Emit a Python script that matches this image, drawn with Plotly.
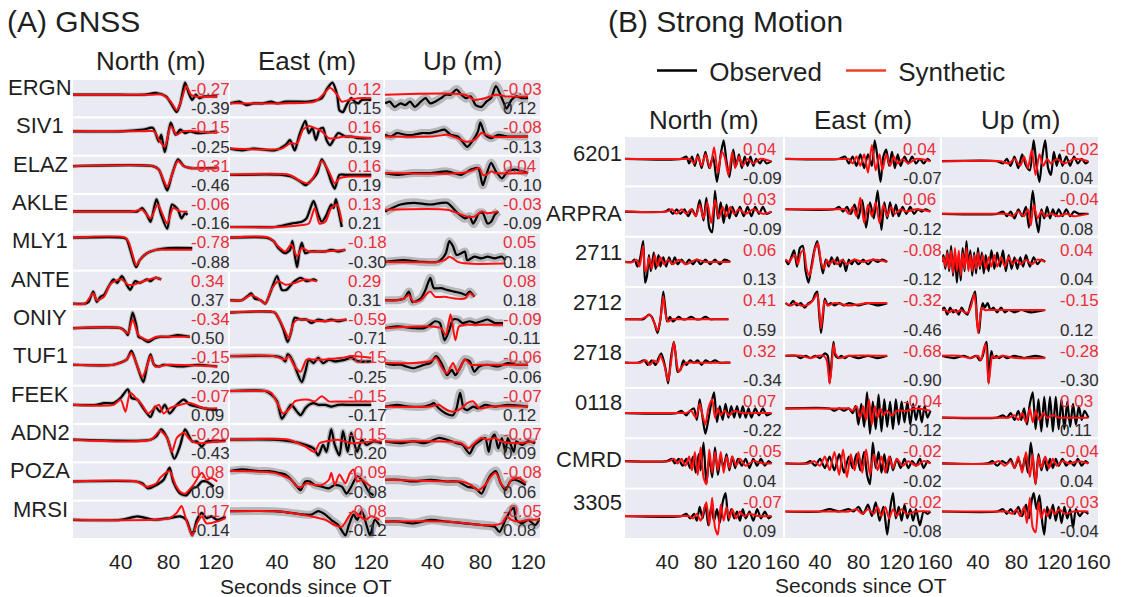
import plotly.graph_objects as go

# ---------------- DATA ----------------
GNSS_STATIONS = ["ERGN", "SIV1", "ELAZ", "AKLE", "MLY1", "ANTE", "ONIY", "TUF1", "FEEK", "ADN2", "POZA", "MRSI"]
SM_STATIONS = ["6201", "ARPRA", "2711", "2712", "2718", "0118", "CMRD", "3305"]
COMPONENTS = ["North (m)", "East (m)", "Up (m)"]
GNSS_TICKS = [40, 80, 120]
SM_TICKS = [40, 80, 120, 160]

# waveforms: (seconds since OT, normalised amplitude -10..10 within each panel)
GNSS_N_OBS = [
    [(0,2),(40,2),(60,2),(70,3),(78,1),(83,-4),(87,-8),(90,-3),(94,9),(97,3),(100,-1),(103,2),(106,0),(110,1),(121,1)],
    [(0,3),(40,3),(59,4),(67,5),(72,-3),(74,1),(77,-9),(82,8),(86,1),(90,4),(94,2),(98,3),(104,2),(121,3)],
    [(0,5),(67,5),(72,3),(76,-4),(79,-9),(83,0),(88,9),(93,5),(98,4),(121,4)],
    [(0,1),(48,1),(54,1),(58,3),(62,-1),(65,-5),(70,8),(74,-1),(79,-9),(83,5),(88,2),(91,-3),(94,0),(96,-1)],
    [(0,8),(42,8),(45,7),(48,1),(51,-6),(53,-9),(56,-5),(62,-1),(70,1),(80,2),(100,2)],
    [(0,-8),(10,-8),(13,-7),(17,-1),(20,-7),(23,-4),(26,-3),(30,2),(34,6),(37,4),(41,8),(45,3),(48,0),(52,5),(56,4),(62,6),(65,5),(69,7),(74,6)],
    [(0,0),(40,0),(44,-2),(46,-4),(50,9),(53,2),(55,-5),(58,-6),(63,-8),(68,-6),(73,-5),(80,-5),(88,-4),(98,-5)],
    [(0,1),(34,1),(45,4),(49,9),(53,2),(59,-9),(62,0),(65,7),(68,1),(72,0),(76,1),(90,0),(105,1),(121,0)],
    [(0,0),(20,0),(26,1),(34,1),(40,4),(46,9),(49,4),(54,3),(59,-2),(65,-7),(69,-1),(73,-4),(77,0),(81,-5),(87,0),(93,3),(98,0),(104,-1),(110,-2),(121,-3)],
    [(0,2),(65,2),(70,4),(74,8),(79,3),(85,-9),(90,-1),(94,8),(100,1),(104,1),(108,-2),(112,1),(121,1),(128,2)],
    [(0,0),(53,0),(58,-1),(63,-4),(70,-2),(76,1),(81,8),(84,0),(90,-7),(95,-8),(100,-4),(104,-3),(108,0),(112,0),(118,-3)],
    [(0,0),(40,0),(54,2),(68,0),(81,1),(90,2),(95,0),(100,-9),(104,0),(108,4),(112,1),(116,2),(121,0),(128,2)],
]
GNSS_N_SYN = [
    [(0,2),(65,2),(75,2),(82,-2),(87,-7),(91,-1),(95,7),(99,2),(103,1),(121,1)],
    [(0,3),(60,3),(68,3),(73,-3),(77,-6),(82,6),(87,1),(92,3),(121,2)],
    [(0,5),(67,5),(72,3),(76,-3),(79,-7),(83,0),(88,8),(93,5),(98,4),(121,4)],
    [(0,1),(50,1),(58,2),(65,-3),(71,5),(79,-6),(84,3),(90,1),(96,1)],
    [(0,8),(44,8),(47,5),(50,-2),(53,-8),(56,-5),(62,-1),(70,1),(80,1),(100,1)],
    [(0,-8),(10,-8),(17,-2),(20,-6),(26,-4),(31,3),(35,5),(41,6),(46,3),(51,3),(59,5),(70,7),(74,6)],
    [(0,0),(40,0),(46,-3),(50,5),(55,-4),(63,-7),(70,-5),(80,-5),(98,-5)],
    [(0,1),(34,1),(45,4),(49,8),(53,2),(58,-6),(62,0),(65,6),(69,0),(80,1),(121,0)],
    [(0,0),(34,0),(40,3),(44,-4),(48,7),(54,3),(58,0),(63,-5),(68,-2),(72,0),(76,-5),(81,-2),(90,0),(98,1),(110,-2),(121,-2)],
    [(0,2),(65,2),(73,7),(79,3),(83,-5),(87,3),(93,6),(98,2),(104,0),(121,1),(128,1)],
    [(0,0),(53,0),(62,-3),(70,-1),(73,2),(81,6),(86,-2),(90,-6),(94,-7),(101,-2),(108,5),(112,1),(116,2),(121,0)],
    [(0,0),(68,0),(81,1),(87,4),(91,8),(95,0),(100,-9),(104,-2),(108,2),(112,-2),(121,-1),(128,1)],
]
GNSS_E_OBS = [
    [(0,-3),(8,-2),(14,-4),(20,-3),(28,-3),(35,-2),(40,-3),(47,-2),(56,-2),(67,-2),(78,0),(82,5),(87,9),(91,2),(93,-7),(96,-8),(99,-4),(103,0),(106,-2),(109,-3),(112,-1),(120,-1)],
    [(0,-7),(10,-8),(20,-7),(38,-8),(47,-5),(51,-2),(55,-8),(59,1),(64,9),(67,2),(70,5),(73,-2),(76,4),(79,5),(82,-2),(85,-5),(88,-2),(92,2),(98,0),(103,0),(110,-1),(120,-1)],
    [(0,0),(44,0),(52,-1),(60,-4),(64,-6),(68,-4),(74,1),(78,9),(82,4),(86,-4),(89,-8),(93,0),(98,0),(103,0),(120,0)],
    [(0,-8),(20,-8),(38,-8),(52,-6),(61,-5),(65,-3),(71,7),(75,-1),(78,-5),(82,-1),(86,5),(88,3),(90,8),(92,2),(95,-8)],
    [(0,8),(31,8),(37,6),(41,2),(47,-1),(51,1),(53,6),(55,-2),(57,-9),(59,0),(61,5),(64,-1),(68,0),(74,0),(81,0),(86,1),(92,0),(98,1)],
    [(0,-6),(10,-6),(16,-3),(18,-2),(21,-5),(26,-6),(30,-8),(34,-2),(40,8),(44,0),(48,0),(52,3),(55,5),(60,7),(65,5),(71,6),(74,5)],
    [(0,9),(38,9),(41,6),(45,0),(49,-8),(52,-2),(55,6),(60,5),(65,5),(69,3),(75,5),(81,4),(86,5),(92,4),(99,5)],
    [(0,6),(38,6),(44,5),(47,3),(49,7),(51,6),(54,2),(61,-9),(64,-3),(67,4),(71,2),(75,5),(79,2),(84,4),(89,3),(98,4),(103,5),(109,3),(120,3)],
    [(0,8),(30,8),(35,6),(40,2),(44,-8),(48,-4),(52,0),(57,-4),(60,-6),(64,-2),(67,0),(71,1),(75,0),(81,0),(86,-1),(92,0),(103,0),(120,0)],
    [(0,2),(38,2),(52,1),(64,-1),(71,-3),(75,-7),(79,-1),(82,-5),(86,8),(89,-1),(93,-7),(96,7),(100,-5),(103,6),(108,-5),(112,2),(116,-1),(122,1),(129,0)],
    [(0,6),(10,7),(24,6),(33,6),(41,5),(47,4),(52,1),(57,-3),(60,-5),(64,0),(68,0),(72,-2),(78,-3),(84,-4),(89,-2),(95,-3),(99,-7),(103,-3),(108,3),(112,1),(118,-6),(122,-8)],
    [(0,5),(38,5),(52,4),(64,3),(69,3),(75,5),(81,3),(86,0),(92,-3),(98,-9),(101,-3),(105,3),(108,0),(112,5),(116,-3),(119,-9),(123,0),(127,-3)],
]
GNSS_E_SYN = [
    [(0,-3),(50,-3),(72,-2),(79,2),(85,6),(91,2),(95,-2),(101,-1),(109,0),(120,0)],
    [(0,-7),(44,-7),(51,-4),(57,-4),(62,4),(67,6),(72,5),(78,3),(84,-1),(89,-1),(98,0),(120,-1)],
    [(0,0),(50,0),(61,-4),(67,-5),(72,0),(78,8),(84,2),(89,-5),(93,-2),(103,-1),(120,-1)],
    [(0,-8),(40,-8),(60,-7),(67,-6),(72,3),(76,-6),(81,-5),(86,3),(91,5),(95,-5)],
    [(0,8),(33,8),(41,3),(47,0),(52,4),(57,-3),(61,2),(67,0),(81,0),(98,1)],
    [(0,-6),(10,-6),(18,-3),(24,-5),(30,-8),(35,0),(41,5),(47,3),(55,4),(64,6),(74,5)],
    [(0,9),(38,9),(42,5),(47,-2),(50,-6),(54,3),(58,5),(75,4),(99,5)],
    [(0,6),(38,6),(47,4),(50,6),(55,0),(60,-3),(65,4),(72,4),(81,4),(95,5),(103,6),(120,5)],
    [(0,8),(30,8),(35,7),(41,0),(45,-5),(51,-2),(55,2),(61,3),(67,3),(72,2),(78,5),(84,2),(92,2),(103,2),(120,2)],
    [(0,2),(50,2),(64,-2),(72,-5),(76,0),(81,1),(92,2),(103,0),(120,1),(129,1)],
    [(0,6),(38,5),(52,1),(57,-3),(61,-3),(65,-1),(72,-2),(78,-2),(84,1),(86,5),(89,-2),(93,4),(98,-1),(102,5),(105,7),(108,0),(112,1),(116,-1),(120,-3)],
    [(0,5),(38,5),(52,4),(69,2),(81,0),(89,-3),(95,-4),(101,2),(105,5),(109,3),(115,0),(120,2),(127,0)],
]
GNSS_U_OBS = [
    [(0,-3),(4,-2),(8,-5),(13,-3),(17,-4),(21,-2),(25,-5),(30,-2),(34,0),(38,-3),(42,-2),(47,0),(51,2),(55,2),(60,5),(64,2),(68,0),(72,1),(76,-4),(81,-5),(85,-2),(89,0),(93,7),(98,0),(102,-6),(106,-1),(110,1),(115,0),(120,0)],
    [(0,1),(5,0),(10,2),(17,1),(24,1),(31,2),(38,2),(44,3),(50,4),(55,1),(61,0),(65,-3),(69,-6),(74,-2),(78,3),(80,8),(84,1),(89,-1),(95,1),(103,0),(110,0),(120,0)],
    [(0,1),(10,0),(24,1),(38,1),(52,2),(64,0),(72,3),(78,4),(82,-6),(85,0),(89,7),(93,2),(98,-2),(103,2),(109,3),(120,1)],
    [(0,1),(13,5),(24,6),(38,5),(52,6),(61,0),(67,-3),(71,-2),(74,-6),(79,0),(82,0),(86,-6),(89,-5),(92,-1),(95,1)],
    [(0,-6),(15,-5),(30,-6),(44,-6),(48,-4),(51,-1),(54,6),(57,3),(60,-2),(64,-1),(67,0),(69,-5),(75,-3),(81,-4),(86,-3),(92,-4),(98,-3),(101,-5)],
    [(0,-6),(10,-6),(16,-5),(20,-1),(23,-7),(30,-5),(34,0),(38,7),(41,1),(47,1),(52,0),(58,-1),(64,-2),(68,-3),(71,-1),(75,-4)],
    [(0,0),(10,1),(24,0),(33,0),(38,2),(42,4),(46,3),(50,-7),(54,-1),(57,5),(61,5),(65,3),(71,4),(76,3),(81,4),(86,5),(92,3),(99,3)],
    [(0,2),(6,1),(13,1),(18,0),(24,-1),(33,1),(38,2),(43,6),(48,1),(52,-5),(56,-2),(59,-5),(62,-2),(67,4),(71,3),(75,-3),(79,0),(86,1),(95,0),(103,2),(110,1),(120,1)],
    [(0,-1),(10,0),(20,-1),(33,-1),(38,0),(41,1),(45,-2),(51,-5),(57,-6),(60,-2),(63,7),(66,-2),(69,-3),(74,-1),(78,-2),(84,0),(92,-1),(103,0),(120,-1)],
    [(0,1),(12,0),(24,1),(33,0),(38,1),(45,3),(52,2),(60,0),(65,-1),(71,-6),(75,-1),(79,1),(84,3),(87,-5),(89,2),(92,5),(95,-3),(98,3),(101,-5),(103,3),(108,-5),(110,1),(115,-1),(120,1),(126,0)],
    [(0,1),(12,1),(24,0),(38,1),(52,0),(61,0),(69,-3),(76,-4),(81,-7),(85,-1),(89,4),(93,6),(97,-1),(101,-5),(105,0),(109,1),(113,0),(118,-2)],
    [(0,-1),(12,-1),(24,-2),(38,0),(52,-1),(67,-2),(81,-3),(92,-4),(96,-7),(101,0),(105,5),(108,7),(110,0),(115,-2),(120,0),(126,-3),(130,1)],
]
GNSS_U_SYN = [
    [(0,2),(67,2),(75,-1),(84,0),(93,2),(101,1),(120,1)],
    [(0,0),(40,0),(52,1),(61,-1),(68,-3),(75,-2),(81,2),(89,0),(120,0)],
    [(0,1),(64,1),(75,3),(79,4),(82,0),(85,0),(89,2),(93,1),(120,1)],
    [(0,2),(52,2),(61,0),(69,-2),(75,-2),(81,1),(86,0),(95,1)],
    [(0,-6),(44,-6),(50,-5),(54,-3),(57,-4),(61,-6),(69,-7),(101,-7)],
    [(0,-6),(10,-6),(16,-5),(20,-3),(24,-7),(30,-6),(34,-3),(38,-1),(42,-4),(50,-4),(58,-5),(67,-5),(71,-2),(75,-4)],
    [(0,0),(38,1),(47,0),(51,-4),(55,8),(59,-7),(62,1),(67,2),(75,2),(99,2)],
    [(0,2),(24,2),(38,3),(43,5),(48,-1),(52,-4),(57,2),(61,-3),(67,4),(72,1),(81,1),(120,1)],
    [(0,-1),(38,-1),(45,0),(52,-3),(57,-4),(64,-2),(69,1),(74,2),(79,-2),(89,-1),(120,-1)],
    [(0,1),(52,1),(64,0),(70,-3),(75,0),(81,3),(86,2),(92,3),(98,1),(109,0),(126,1)],
    [(0,1),(52,0),(64,0),(72,-2),(78,-5),(84,-2),(89,3),(93,5),(98,-2),(102,-4),(106,1),(112,2),(118,-1)],
    [(0,-1),(52,-1),(67,-2),(81,-3),(92,-3),(98,-2),(102,2),(106,0),(112,-1),(120,0),(130,0)],
]

SM_N_OBS = [
    [(-4,1),(55,1),(60,2),(63,-1),(66,2),(69,-2),(72,3),(76,-3),(80,4),(84,-3),(88,2),(92,-9),(96,3),(99,9),(102,0),(105,-7),(109,5),(112,-2),(115,3),(118,-3),(121,2),(124,-2),(127,2),(130,-2),(133,1),(137,-1),(140,1),(144,-1),(149,0)],
    [(-4,0),(38,0),(42,1),(46,-1),(50,1),(54,-1),(58,1),(62,-2),(66,1),(70,-2),(74,5),(78,-4),(81,6),(84,-7),(87,-9),(90,9),(93,-3),(96,4),(99,-5),(102,3),(105,-3),(108,2),(112,-2),(116,2),(120,-2),(124,2),(128,-2),(132,2),(136,-1),(140,2),(144,-1),(149,0)],
    [(-4,0),(3,0),(6,1),(9,-2),(12,2),(15,9),(17,-9),(19,-6),(21,3),(23,-4),(26,4),(28,-3),(31,3),(33,-2),(36,2),(39,-2),(42,2),(45,-1),(48,2),(51,-1),(55,1),(59,-1),(63,1),(67,-1),(71,1),(75,-1),(80,1),(85,-1),(90,1),(95,-1),(100,1),(106,0)],
    [(-4,-3),(10,-3),(15,-3),(18,-2),(21,-1),(24,-2),(27,-5),(30,-9),(33,-3),(36,9),(38,2),(40,-4),(43,-2),(46,-4),(49,-3),(52,-2),(56,-3),(60,-3),(65,-2),(70,-3),(75,-3),(80,-2),(85,-3),(90,-3),(95,-3),(104,-3)],
    [(-4,0),(10,0),(16,1),(20,-1),(24,1),(28,-1),(31,2),(34,4),(38,-2),(41,-9),(44,2),(47,9),(49,3),(51,-4),(54,-3),(57,1),(60,-1),(64,1),(68,0),(72,1),(76,-1),(80,1),(85,0),(90,1),(95,0),(100,0),(106,0)],
    [(-4,0),(50,0),(55,1),(60,-1),(64,1),(68,2),(71,-3),(74,6),(77,-2),(80,-9),(83,-3),(86,4),(89,9),(92,-4),(95,3),(98,-3),(101,4),(104,-2),(107,3),(110,-2),(113,3),(116,-2),(119,3),(122,-2),(125,2),(128,-2),(132,2),(136,-1),(140,2),(144,-1),(149,0)],
    [(-4,1),(40,1),(45,2),(48,0),(52,2),(56,-1),(60,2),(64,-2),(67,3),(70,-4),(73,4),(75,-3),(78,9),(81,-9),(84,3),(87,-6),(90,7),(93,-5),(96,3),(99,-2),(102,4),(105,-3),(108,3),(111,-2),(114,2),(118,-1),(122,2),(126,-2),(130,2),(134,-1),(138,2),(142,-1),(146,1),(149,0)],
    [(-4,-1),(55,-1),(60,0),(64,-2),(68,0),(71,-3),(74,3),(77,-2),(80,4),(83,-5),(86,3),(89,-3),(92,2),(95,-4),(98,5),(101,9),(104,-3),(107,2),(110,-2),(113,1),(116,-3),(119,2),(122,-2),(126,1),(130,-3),(134,2),(138,-2),(142,1),(146,-2),(149,-1)],
]
SM_N_SYN = [
    [(-4,1),(58,1),(64,1),(68,-1),(72,2),(76,-2),(80,3),(85,-3),(89,6),(93,-5),(97,4),(100,2),(104,-6),(108,4),(111,-3),(115,2),(119,-2),(124,1),(130,-1),(137,1),(149,0)],
    [(-4,0),(40,0),(45,1),(50,-1),(55,1),(60,-1),(65,1),(70,-2),(74,3),(78,-3),(82,4),(86,-5),(90,5),(94,-3),(98,2),(102,-2),(106,2),(110,-1),(115,1),(122,-1),(130,1),(140,-1),(149,0)],
    [(-4,0),(4,0),(8,1),(11,-2),(13,2),(15,7),(17,-4),(19,-3),(21,2),(24,-3),(27,3),(30,-2),(33,2),(37,-1),(41,1),(46,-1),(52,1),(60,-1),(70,1),(80,0),(90,0),(106,0)],
    [(-4,-3),(12,-3),(18,-2),(22,-1),(26,-4),(30,-8),(33,-3),(36,7),(38,0),(41,-4),(45,-3),(50,-3),(60,-3),(104,-3)],
    [(-4,0),(12,0),(18,1),(22,-1),(26,1),(30,0),(33,3),(37,-1),(41,-8),(44,0),(47,9),(50,0),(52,-4),(55,-2),(60,0),(70,0),(106,0)],
    [(-4,0),(55,0),(60,0),(65,1),(70,-2),(74,4),(77,-1),(80,-5),(83,2),(87,6),(90,-2),(93,2),(96,-1),(100,1),(105,-1),(110,1),(118,0),(130,0),(149,0)],
    [(-4,1),(42,1),(47,2),(51,0),(55,2),(59,-1),(63,3),(66,-3),(69,5),(72,-5),(75,7),(78,-6),(81,-9),(84,6),(87,-4),(90,5),(93,-3),(96,5),(99,-4),(102,3),(105,-2),(108,3),(112,-1),(116,2),(122,-1),(130,1),(140,0),(149,0)],
    [(-4,-1),(58,-1),(63,-1),(67,-2),(71,0),(75,-3),(78,1),(81,5),(84,-5),(87,7),(90,-6),(93,-9),(96,4),(99,-3),(102,3),(105,-2),(108,2),(112,-2),(116,1),(120,-1),(126,0),(135,-1),(149,-1)],
]
SM_E_OBS = [
    [(4,1),(60,1),(66,2),(70,-1),(74,2),(78,-2),(82,3),(86,-3),(90,3),(94,-2),(97,9),(100,1),(103,-9),(106,2),(109,5),(112,-2),(115,4),(118,-3),(121,3),(124,-2),(128,2),(132,-1),(136,2),(140,-1),(144,1),(148,-1),(152,1),(155,0)],
    [(4,1),(55,1),(60,2),(64,0),(68,2),(72,-1),(76,3),(80,-3),(84,5),(88,-7),(92,4),(96,-3),(100,9),(104,-8),(107,4),(110,-3),(113,4),(116,-2),(119,3),(122,-2),(126,2),(130,-1),(134,2),(138,-1),(142,1),(146,0),(150,1),(155,0)],
    [(4,1),(7,-1),(10,2),(13,5),(16,-2),(19,6),(22,7),(25,-4),(28,-9),(31,-2),(34,5),(37,9),(40,2),(43,-5),(46,1),(49,-2),(52,2),(55,-1),(58,2),(61,-2),(64,1),(67,-4),(70,1),(73,-1),(76,1),(80,-1),(85,1),(90,-1),(95,1),(100,0),(105,1),(110,0)],
    [(4,4),(8,3),(12,5),(16,3),(20,4),(24,2),(28,4),(32,5),(35,8),(37,9),(39,0),(41,-9),(43,-2),(45,6),(48,3),(51,4),(55,3),(60,4),(65,3),(70,4),(80,3),(90,4),(100,3),(110,4)],
    [(4,3),(15,3),(20,2),(25,3),(30,2),(35,3),(40,2),(45,4),(48,3),(50,-9),(52,0),(54,9),(56,3),(59,2),(62,3),(66,2),(70,3),(80,2),(90,3),(100,2),(110,3)],
    [(4,2),(50,2),(55,1),(60,2),(65,1),(70,2),(74,0),(77,3),(80,-5),(83,4),(86,-6),(89,9),(92,-9),(95,5),(98,-7),(101,8),(104,-8),(107,6),(110,-6),(113,5),(116,-7),(119,6),(122,-5),(125,5),(128,-4),(131,5),(134,-5),(137,4),(140,-3),(143,3),(146,-4),(149,3),(152,-2),(155,1)],
    [(4,0),(25,0),(30,1),(35,-1),(40,2),(45,-2),(50,3),(55,-3),(60,4),(65,-4),(70,3),(74,-2),(78,4),(82,-3),(86,5),(89,-5),(92,-9),(95,9),(98,-2),(101,5),(104,-4),(107,4),(110,-4),(113,3),(116,-3),(120,2),(124,-2),(128,2),(132,-2),(136,1),(140,-1),(144,2),(148,-2),(152,1),(155,0)],
    [(4,1),(40,1),(50,2),(60,1),(70,2),(75,1),(80,3),(85,0),(90,4),(94,-1),(98,5),(102,-3),(106,3),(110,-9),(113,2),(116,9),(119,-2),(122,3),(125,-3),(128,4),(131,-2),(134,2),(137,-3),(140,2),(144,-5),(148,1),(152,0),(155,1)],
]
SM_E_SYN = [
    [(4,1),(64,1),(70,1),(74,-1),(78,2),(82,-2),(86,3),(90,-5),(94,7),(98,-4),(102,3),(105,-4),(109,3),(113,-2),(117,2),(121,-1),(126,1),(132,-1),(140,1),(155,0)],
    [(4,1),(60,1),(66,1),(70,-1),(74,2),(78,-2),(82,6),(86,-5),(90,3),(94,-2),(98,4),(102,-5),(106,3),(110,-2),(114,2),(118,-1),(124,1),(130,0),(140,1),(155,0)],
    [(4,1),(8,0),(11,2),(14,3),(17,-1),(20,4),(23,5),(26,-3),(29,-6),(32,-1),(35,6),(38,8),(41,0),(44,-3),(47,1),(50,-1),(54,1),(58,-1),(63,1),(68,-1),(75,1),(85,0),(95,1),(110,0)],
    [(4,4),(10,3),(15,4),(20,3),(25,3),(30,4),(34,6),(37,8),(39,2),(41,-7),(43,0),(45,5),(48,3),(55,4),(70,3),(90,4),(110,4)],
    [(4,3),(20,3),(30,2),(38,3),(44,3),(47,1),(50,-9),(52,-2),(54,8),(56,4),(60,2),(70,3),(110,3)],
    [(4,2),(60,2),(70,2),(74,1),(78,3),(82,-2),(85,3),(88,-3),(91,6),(94,-5),(97,3),(100,-2),(103,2),(106,-1),(110,1),(115,-1),(120,1),(130,1),(140,2),(155,1)],
    [(4,0),(28,0),(34,1),(40,-1),(45,3),(50,-3),(55,5),(60,-5),(64,6),(68,-6),(72,4),(76,-3),(80,5),(84,-4),(88,6),(92,-5),(96,4),(100,-3),(104,3),(108,-4),(112,3),(116,-2),(120,2),(126,-1),(132,1),(140,-1),(148,1),(155,0)],
    [(4,1),(50,1),(60,1),(70,1),(78,2),(84,0),(90,2),(96,0),(100,3),(104,-1),(108,3),(112,-2),(116,2),(120,-1),(125,2),(130,0),(140,1),(155,1)],
]
SM_U_OBS = [
    [(2,0),(60,0),(66,-1),(70,1),(74,-2),(78,2),(82,-3),(86,3),(90,-2),(94,-4),(98,9),(101,-2),(104,-9),(107,2),(110,9),(113,-3),(116,-6),(119,4),(122,-2),(125,3),(128,-2),(132,2),(136,-2),(140,2),(144,-1),(148,1),(152,-1),(155,0)],
    [(2,-1),(60,-1),(66,0),(70,-2),(74,0),(78,-3),(82,1),(86,-2),(90,2),(93,-7),(97,9),(100,-2),(103,-9),(106,1),(109,-3),(112,2),(115,-3),(118,1),(121,-2),(124,1),(128,-2),(132,1),(136,-2),(140,0),(145,-1),(150,-1),(155,-1)],
    [(2,0),(4,3),(6,-3),(8,5),(10,-4),(12,7),(14,-6),(16,4),(18,-9),(20,3),(22,-8),(24,6),(26,-4),(28,9),(30,-3),(32,5),(34,-6),(36,4),(38,-5),(40,6),(42,-3),(44,4),(46,-5),(48,3),(51,-4),(54,5),(57,-3),(60,4),(63,-2),(66,5),(69,-4),(72,3),(75,-3),(78,2),(81,-3),(84,2),(87,-2),(90,3),(94,-2),(98,2),(102,-1),(106,1),(110,0)],
    [(2,1),(5,2),(8,-1),(11,2),(14,0),(17,1),(20,-1),(23,2),(26,0),(29,-1),(32,3),(35,7),(37,9),(39,-4),(41,-9),(43,0),(45,4),(47,2),(50,4),(53,1),(56,2),(60,0),(64,2),(68,0),(72,1),(78,0),(85,1),(95,0),(110,1)],
    [(2,3),(15,2),(25,3),(32,2),(38,3),(42,1),(45,3),(47,7),(49,9),(51,-9),(53,2),(54,5),(56,2),(59,3),(62,2),(66,3),(70,2),(78,3),(88,2),(100,3),(110,2)],
    [(2,-2),(60,-2),(66,-1),(70,-2),(74,0),(78,-3),(82,1),(85,-3),(88,2),(91,-5),(94,4),(97,9),(100,-7),(103,6),(106,-8),(109,7),(112,-6),(115,7),(118,-8),(121,7),(124,-7),(127,6),(130,-7),(133,5),(136,-6),(139,4),(142,-5),(145,3),(148,-3),(151,1),(155,-2)],
    [(2,0),(50,0),(55,1),(60,-1),(65,1),(70,0),(74,2),(78,-2),(82,2),(86,-3),(89,3),(92,-4),(95,9),(98,-2),(100,-9),(103,4),(106,-3),(109,2),(112,-3),(115,2),(118,-2),(121,2),(124,-1),(128,2),(132,-1),(136,1),(140,-1),(144,2),(148,-1),(152,1),(155,0)],
    [(2,1),(60,1),(66,2),(70,0),(74,2),(78,0),(82,3),(86,-1),(90,4),(93,-2),(96,6),(98,9),(101,2),(104,8),(107,-4),(109,-9),(112,3),(115,-2),(118,4),(121,-3),(124,3),(127,-4),(130,3),(133,-2),(136,2),(139,-6),(142,2),(146,-1),(150,1),(155,0)],
]
SM_U_SYN = [
    [(2,0),(64,0),(72,-1),(78,1),(84,-2),(88,2),(92,-3),(96,5),(100,-6),(104,3),(108,-2),(112,1),(116,-1),(122,1),(130,-1),(140,1),(155,0)],
    [(2,-1),(64,-1),(70,-1),(76,-2),(82,0),(88,-2),(92,1),(95,-6),(98,3),(102,-3),(106,0),(110,-2),(116,-1),(124,-2),(132,-1),(140,-2),(155,-1)],
    [(2,0),(4,2),(6,-2),(8,4),(10,-3),(12,5),(14,-5),(16,6),(18,-4),(20,5),(22,-6),(24,4),(26,-3),(28,6),(30,-4),(32,3),(34,-4),(36,3),(38,-3),(40,4),(42,-2),(45,3),(48,-3),(51,2),(54,-2),(57,3),(60,-2),(64,2),(68,-2),(72,2),(76,-1),(80,1),(85,-1),(90,1),(96,-1),(102,1),(110,0)],
    [(2,1),(6,1),(10,0),(14,1),(18,0),(22,1),(26,0),(30,0),(33,3),(36,8),(38,2),(40,-9),(42,-3),(44,2),(47,1),(52,1),(60,1),(80,1),(110,1)],
    [(2,3),(20,3),(32,2),(40,3),(43,1),(46,6),(48,8),(51,-9),(53,-2),(55,3),(58,2),(65,3),(80,2),(110,2)],
    [(2,-2),(66,-2),(72,-2),(78,-1),(82,-3),(86,0),(90,-4),(94,2),(97,-4),(100,1),(104,-3),(108,0),(112,-2),(118,-1),(125,-2),(135,-2),(155,-2)],
    [(2,0),(55,0),(62,1),(68,-1),(74,1),(78,-2),(82,3),(86,-4),(90,5),(94,-6),(97,4),(100,-9),(103,3),(106,-2),(110,3),(114,-2),(118,2),(122,-1),(128,1),(135,0),(145,1),(155,0)],
    [(2,1),(64,1),(70,1),(76,0),(80,2),(84,-1),(88,3),(91,-4),(94,7),(97,-6),(100,-8),(103,5),(106,-2),(109,2),(112,-1),(116,2),(120,0),(125,2),(130,0),(140,1),(155,1)],
]

# peak values printed in each panel (red = synthetic, dark = observed)
GNSS_N_RED = ["-0.27", "-0.15", "-0.31", "-0.06", "-0.78", "0.34", "-0.34", "-0.15", "-0.07", "-0.20", "0.08", "-0.17"]
GNSS_N_BLK = ["-0.39", "-0.25", "-0.46", "-0.16", "-0.88", "0.37", "0.50", "-0.20", "0.09", "-0.43", "0.09", "-0.14"]
GNSS_E_RED = ["0.12", "0.16", "0.16", "0.13", "-0.18", "0.29", "-0.59", "-0.15", "-0.15", "-0.15", "-0.09", "-0.08"]
GNSS_E_BLK = ["0.15", "0.19", "0.19", "0.21", "-0.30", "0.31", "-0.71", "-0.25", "-0.17", "-0.20", "-0.08", "-0.12"]
GNSS_U_RED = ["-0.03", "-0.08", "0.04", "-0.03", "0.05", "0.08", "-0.09", "-0.06", "-0.07", "-0.07", "-0.08", "-0.05"]
GNSS_U_BLK = ["0.12", "-0.13", "-0.10", "-0.09", "0.18", "0.18", "-0.11", "-0.06", "0.12", "0.09", "0.06", "0.08"]
SM_N_RED = ["0.04", "0.03", "0.06", "0.41", "0.32", "0.07", "-0.05", "-0.07"]
SM_N_BLK = ["-0.09", "-0.09", "0.13", "0.59", "-0.34", "-0.22", "0.04", "0.09"]
SM_E_RED = ["0.04", "0.06", "-0.08", "-0.32", "-0.68", "-0.04", "-0.02", "-0.02"]
SM_E_BLK = ["-0.07", "-0.12", "-0.12", "-0.46", "-0.90", "-0.12", "-0.02", "-0.08"]
SM_U_RED = ["-0.02", "-0.04", "0.04", "-0.15", "-0.28", "0.03", "-0.04", "-0.03"]
SM_U_BLK = ["0.04", "0.08", "0.04", "0.12", "-0.30", "0.11", "0.04", "-0.04"]

# ---------------- STYLE / LAYOUT ----------------
W, H = 1143, 597
FONT = "Liberation Sans, Arial, sans-serif"
TXT = "#1f1f1f"
BG = "#EAEAF2"
OBS_C = "black"
SYN_C = "#ff1010"
RED_TXT = "#e8303a"
BLK_TXT = "#2e2e2e"
BAND_C = "rgba(140,140,140,0.55)"

GNSS_COLS = [(73, 228), (230, 383), (385, 540)]
GNSS_TOP, GNSS_ROWH = 80, 460 / 12
GNSS_XR = [[0, 130], [0, 130], [0, 130]]
GNSS_BAND = [[4] * 12,
             [4, 4, 4, 4, 4, 4, 4, 5, 5, 5, 8, 8],
             [9, 8, 8, 9, 8, 8, 8, 9, 8, 8, 9, 9]]
SM_COLS = [(625, 783), (785, 940), (942, 1098)]
SM_TOP, SM_ROWH = 137, 403 / 8
SM_XR = [[-4, 161], [3.5, 165], [2.5, 165]]

GNSS_DATA = [(GNSS_N_OBS, GNSS_N_SYN, GNSS_N_RED, GNSS_N_BLK),
             (GNSS_E_OBS, GNSS_E_SYN, GNSS_E_RED, GNSS_E_BLK),
             (GNSS_U_OBS, GNSS_U_SYN, GNSS_U_RED, GNSS_U_BLK)]
SM_DATA = [(SM_N_OBS, SM_N_SYN, SM_N_RED, SM_N_BLK),
           (SM_E_OBS, SM_E_SYN, SM_E_RED, SM_E_BLK),
           (SM_U_OBS, SM_U_SYN, SM_U_RED, SM_U_BLK)]

fig = go.Figure()
layout = {}
annotations = []
counter = [0]


def px_x(x):
    return x / W


def px_y(y):
    return 1 - y / H


def add_panel(xpx, ytop, ybot, xr, obs, syn, band, bottom, ticks, red, blk, ry, by):
    counter[0] += 1
    n = counter[0]
    xa = "xaxis" if n == 1 else f"xaxis{n}"
    ya = "yaxis" if n == 1 else f"yaxis{n}"
    xr_ = "x" if n == 1 else f"x{n}"
    yr_ = "y" if n == 1 else f"y{n}"
    layout[xa] = dict(domain=[px_x(xpx[0]), px_x(xpx[1])], range=xr, anchor=yr_,
                      showgrid=False, zeroline=False, showline=False, automargin=False,
                      showticklabels=bottom, tickvals=ticks, ticks="",
                      ticklabelstandoff=9,
                      tickfont=dict(family=FONT, size=21, color=TXT), fixedrange=True)
    layout[ya] = dict(domain=[px_y(ybot), px_y(ytop)], range=[-10.5, 10.5], anchor=xr_,
                      showgrid=False, zeroline=False, showline=False, automargin=False,
                      showticklabels=False, fixedrange=True)
    ox = [p[0] for p in obs]
    oy = [p[1] for p in obs]
    sx = [p[0] for p in syn]
    sy = [p[1] for p in syn]
    if band:
        fig.add_trace(go.Scatter(x=ox, y=oy, xaxis=xr_, yaxis=yr_, mode="lines",
                                 line=dict(color=BAND_C, width=band, shape="spline", smoothing=0.7),
                                 showlegend=False, hoverinfo="skip"))
    fig.add_trace(go.Scatter(x=ox, y=oy, xaxis=xr_, yaxis=yr_, mode="lines",
                             line=dict(color=OBS_C, width=2.2, shape="spline", smoothing=0.7),
                             showlegend=False, hoverinfo="skip"))
    fig.add_trace(go.Scatter(x=sx, y=sy, xaxis=xr_, yaxis=yr_, mode="lines",
                             line=dict(color=SYN_C, width=2.0, shape="spline", smoothing=0.7),
                             showlegend=False, hoverinfo="skip"))
    lx = px_x(xpx[0] + 117)
    annotations.append(dict(text=red, x=lx, y=px_y(ytop), xref="paper", yref="paper",
                            xanchor="left", yanchor="top", yshift=ry, showarrow=False, borderpad=0,
                            font=dict(family=FONT, size=17, color=RED_TXT)))
    annotations.append(dict(text=blk, x=lx, y=px_y(ybot), xref="paper", yref="paper",
                            xanchor="left", yanchor="bottom", yshift=by, showarrow=False, borderpad=0,
                            font=dict(family=FONT, size=17, color=BLK_TXT)))


def text(t, x, y, size, xanchor="center", yanchor="middle", color=TXT):
    annotations.append(dict(text=t, x=px_x(x), y=px_y(y), xref="paper", yref="paper",
                            xanchor=xanchor, yanchor=yanchor, showarrow=False, borderpad=0,
                            font=dict(family=FONT, size=size, color=color)))


# GNSS panels
for c in range(3):
    obsL, synL, redL, blkL = GNSS_DATA[c]
    for r in range(12):
        top = GNSS_TOP + r * GNSS_ROWH
        bot = top + GNSS_ROWH - 2
        add_panel(GNSS_COLS[c], top, bot, GNSS_XR[c], obsL[r], synL[r], GNSS_BAND[c][r],
                  r == 11, GNSS_TICKS, redL[r], blkL[r], 1, -3)

# strong-motion panels
for c in range(3):
    obsL, synL, redL, blkL = SM_DATA[c]
    for r in range(8):
        top = SM_TOP + r * SM_ROWH
        bot = top + SM_ROWH - 2
        add_panel(SM_COLS[c], top, bot, SM_XR[c], obsL[r], synL[r], 0,
                  r == 7, SM_TICKS, redL[r], blkL[r], -2, -4)

# station labels
for r, s in enumerate(GNSS_STATIONS):
    text(s, 40, GNSS_TOP + r * GNSS_ROWH + 7.5, 22)
SM_LABEL_Y = [153, 213, 252, 302, 352, 402, 459, 503]
for r, s in enumerate(SM_STATIONS):
    text(s, 623, SM_LABEL_Y[r], 22, xanchor="right")

# titles
text("(A) GNSS", 6, 22, 30, xanchor="left")
text("(B) Strong Motion", 607, 22, 30, xanchor="left")
for c in range(3):
    text(COMPONENTS[c], (GNSS_COLS[c][0] + GNSS_COLS[c][1]) / 2, 61, 26)
    text(COMPONENTS[c], (SM_COLS[c][0] + SM_COLS[c][1]) / 2, 120, 26)
text("Seconds since OT", 306, 586, 21)
text("Seconds since OT", 861, 585, 21)

# legend entries
NBSP = "\u00a0"
fig.add_trace(go.Scatter(x=[None], y=[None], mode="lines", name=NBSP + "Observed",
                         line=dict(color="black", width=2.5)))
fig.add_trace(go.Scatter(x=[None], y=[None], mode="lines", name=NBSP + "Synthetic",
                         line=dict(color="#f0401c", width=2.5)))

fig.update_layout(
    width=W, height=H, autosize=False,
    margin=dict(l=0, r=0, t=0, b=0, pad=0, autoexpand=False),
    paper_bgcolor="white", plot_bgcolor=BG,
    font=dict(family=FONT, color=TXT),
    annotations=annotations,
    showlegend=True,
    legend=dict(orientation="h", x=px_x(652), y=px_y(47), xanchor="left", yanchor="top",
                font=dict(family=FONT, size=26, color=TXT), bgcolor="rgba(0,0,0,0)",
                itemwidth=40, entrywidth=134, entrywidthmode="pixels", tracegroupgap=0),
    hovermode=False,
    **layout,
)

fig.write_html("out.html",
               post_script=("document.documentElement.style.overflow='hidden';"
                            "document.body.style.overflow='hidden';document.body.style.margin='0';"),
               config={"displayModeBar": False, "responsive": False})
